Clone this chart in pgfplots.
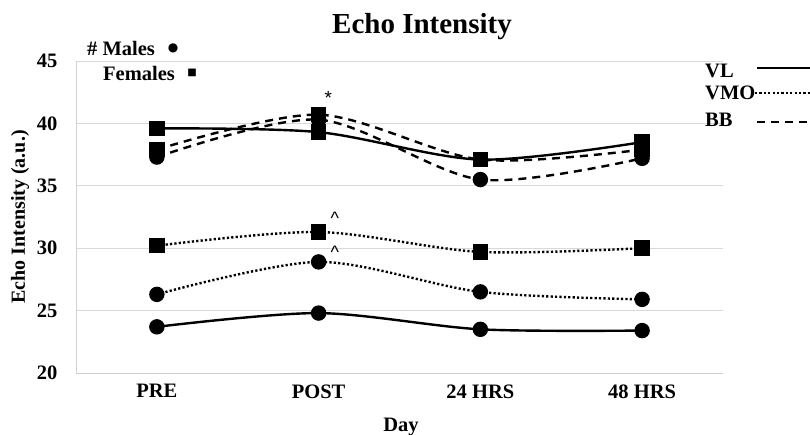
\documentclass[border=0pt]{standalone}
\usepackage{pgfplots}
\pgfplotsset{compat=1.18}
\usepackage{fontspec}
\setmainfont{Liberation Serif}
\newfontfamily\symfont{DejaVu Sans}
\newfontfamily\annfont{Liberation Sans}
\begin{document}
\begin{tikzpicture}[x=1pt,y=1pt]
\path[use as bounding box] (-76,-62) rectangle (734,373);
\begin{axis}[
  at={(0,0)}, anchor=south west,
  scale only axis, width=647pt, height=312pt,
  xmin=-0.5, xmax=3.5, ymin=20, ymax=45,
  xtick={0,1,2,3}, xticklabels={PRE,POST,24 HRS,48 HRS},
  ytick={20,25,30,35,40,45},
  ymajorgrids, grid style={draw=black!15, line width=0.8pt},
  axis x line*=bottom, axis y line*=left,
  axis line style={draw=black!18, line width=0.8pt},
  x axis line style={-}, y axis line style={-},
  major tick length=0pt,
  tick label style={font=\bfseries\fontsize{20.5}{23}\selectfont},
  /pgf/number format/assume math mode=true,
  xticklabel style={yshift=-8pt},
  yticklabel style={xshift=-15pt},
  clip=false,
]
% VL
\addplot[black, line width=2.4pt, smooth, tension=0.5, mark=*, mark size=6.5pt] coordinates {(0,23.7) (1,24.8) (2,23.5) (3,23.4)};
\addplot[black, line width=2.4pt, smooth, tension=0.5, mark=square*, mark size=6.5pt] coordinates {(0,39.6) (1,39.3) (2,37.1) (3,38.5)};
% VMO
\addplot[black, line width=2.4pt, dash pattern=on 2.2pt off 2.2pt, smooth, tension=0.5, mark=*, mark size=6.5pt, mark options={solid}] coordinates {(0,26.3) (1,28.9) (2,26.5) (3,25.9)};
\addplot[black, line width=2.4pt, dash pattern=on 2.2pt off 2.2pt, smooth, tension=0.5, mark=square*, mark size=6.5pt, mark options={solid}] coordinates {(0,30.2) (1,31.3) (2,29.7) (3,30.0)};
% BB
\addplot[black, line width=2.4pt, dash pattern=on 8pt off 6pt, smooth, tension=0.5, mark=*, mark size=6.5pt, mark options={solid}] coordinates {(0,37.3) (1,40.3) (2,35.5) (3,37.2)};
\addplot[black, line width=2.4pt, dash pattern=on 8pt off 6pt, smooth, tension=0.5, mark=square*, mark size=6.5pt, mark options={solid}] coordinates {(0,37.9) (1,40.7) (2,37.1) (3,37.9)};
% annotations
\node[font=\annfont\fontsize{19}{21}\selectfont] at (axis cs:1.06,42.0) {*};
\node[font=\annfont\fontsize{18}{20}\selectfont] at (axis cs:1.10,32.4) {\textasciicircum};
\node[font=\annfont\fontsize{18}{20}\selectfont] at (axis cs:1.10,29.7) {\textasciicircum};
\end{axis}
% title and labels
\node[font=\bfseries\fontsize{29}{33}\selectfont] at (346,346) {Echo Intensity};
\node[font=\bfseries\fontsize{20}{23}\selectfont, rotate=90] at (-56,156) {Echo Intensity (a.u.)};
\node[font=\bfseries\fontsize{20.5}{23}\selectfont] at (325,-54) {Day};
% top-left legend
\node[font=\bfseries\fontsize{20.5}{23}\selectfont, anchor=west, inner sep=0pt] at (11,325) {\# Males};
\node[font=\symfont\fontsize{12}{14}\selectfont] at (97,325) {●};
\node[font=\bfseries\fontsize{20.5}{23}\selectfont, anchor=west, inner sep=0pt] at (27,300) {Females};
\node[font=\symfont\fontsize{10}{12}\selectfont] at (116,300) {■};
% right legend
\node[font=\bfseries\fontsize{20.5}{23}\selectfont, anchor=west, inner sep=0pt] at (629,302) {VL};
\draw[black, line width=2.4pt] (681,305) -- (734,305);
\node[font=\bfseries\fontsize{20.5}{23}\selectfont, anchor=west, inner sep=0pt] at (629,280) {VMO};
\draw[black, line width=2.4pt, dash pattern=on 2.2pt off 2.2pt] (679,280) -- (734,280);
\node[font=\bfseries\fontsize{20.5}{23}\selectfont, anchor=west, inner sep=0pt] at (629,253) {BB};
\draw[black, line width=2.4pt, dash pattern=on 8pt off 6pt] (681,251) -- (734,251);
\end{tikzpicture}
\end{document}
